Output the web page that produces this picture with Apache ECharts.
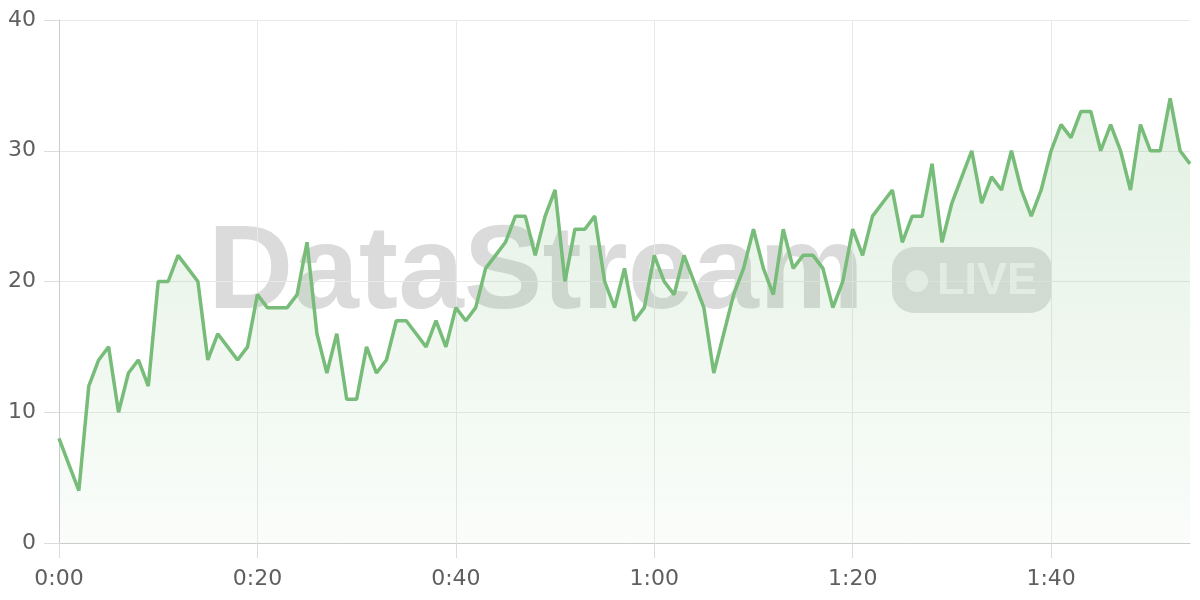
<!DOCTYPE html>
<html>
<head>
<meta charset="utf-8">
<script src="https://cdn.jsdelivr.net/npm/echarts@6/dist/echarts.min.js"></script>
<style>
html,body{margin:0;padding:0;background:#fff;}
#chart{width:1200px;height:600px;}
</style>
</head>
<body>
<div id="chart"></div>
<script>
// Values per second, 0:00 .. 1:54
const values = [
  8, 6, 4, 12, 14, 15, 10, 13, 14, 12,
  20, 20, 22, 21, 20, 14, 16, 15, 14, 15,
  19, 18, 18, 18, 19, 23, 16, 13, 16, 11,
  11, 15, 13, 14, 17, 17, 16, 15, 17, 15,
  18, 17, 18, 21, 22, 23, 25, 25, 22, 25,
  27, 20, 24, 24, 25, 20, 18, 21, 17, 18,
  22, 20, 19, 22, 20, 18, 13, 16, 19, 21,
  24, 21, 19, 24, 21, 22, 22, 21, 18, 20,
  24, 22, 25, 26, 27, 23, 25, 25, 29, 23,
  26, 28, 30, 26, 28, 27, 30, 27, 25, 27,
  30, 32, 31, 33, 33, 30, 32, 30, 27, 32,
  30, 30, 34, 30, 29
];
const categories = [];
for (let i = 0; i < values.length; i++) {
  const m = Math.floor(i / 60), s = i % 60;
  categories.push(m + ':' + (s < 10 ? '0' : '') + s);
}
const yTicks = { min: 0, max: 40, interval: 10 };
const watermarkTitle = 'DataStream';
const watermarkBadge = 'LIVE';

const chart = echarts.init(document.getElementById('chart'), null, { renderer: 'canvas' });
const green = '#77bc78';
chart.setOption({
  animation: false,
  textStyle: { fontFamily: 'DejaVu Sans' },
  grid: { left: 59, right: 10, top: 20, bottom: 57, containLabel: false },
  xAxis: {
    type: 'category',
    data: categories,
    boundaryGap: false,
    axisLine: { show: true, lineStyle: { color: '#cccccc', width: 1 } },
    axisTick: { show: true, alignWithLabel: true, interval: 19, length: 15, lineStyle: { color: '#dcdcdc', width: 1 } },
    axisLabel: { interval: 19, color: '#5f5f5f', fontSize: 22, margin: 25, fontFamily: 'DejaVu Sans' },
    splitLine: { show: true, interval: 19, lineStyle: { color: '#e8e8e8', width: 1 } }
  },
  yAxis: {
    type: 'value',
    min: yTicks.min, max: yTicks.max, interval: yTicks.interval,
    axisLine: { show: true, lineStyle: { color: '#cccccc', width: 1 } },
    axisTick: { show: true, inside: false, length: 15, lineStyle: { color: '#dcdcdc', width: 1 } },
    axisLabel: { color: '#5f5f5f', fontSize: 22, margin: 23, fontFamily: 'DejaVu Sans' },
    splitLine: { show: true, lineStyle: { color: '#e8e8e8', width: 1 } }
  },
  graphic: [
    {
      type: 'text', z: 0, left: 208, top: 216,
      style: {
        text: watermarkTitle, fill: 'rgba(0,0,0,0.14)',
        font: 'bold 118px "Liberation Sans", Arial, sans-serif'
      }
    },
    {
      type: 'rect', z: 0, shape: { x: 892, y: 247, width: 160, height: 66, r: 22 },
      style: { fill: 'rgba(0,0,0,0.12)' }
    },
    {
      type: 'circle', z: 1, shape: { cx: 917, cy: 281, r: 11 },
      style: { fill: 'rgba(255,255,255,0.6)' }
    },
    {
      type: 'text', z: 1, left: 937, top: 259,
      style: {
        text: watermarkBadge, fill: 'rgba(255,255,255,0.6)',
        font: 'bold 45px "Liberation Sans", Arial, sans-serif'
      }
    }
  ],
  series: [{
    type: 'line',
    data: values,
    symbol: 'none',
    z: 3,
    lineStyle: { color: green, width: 3.5 },
    areaStyle: {
      color: new echarts.graphic.LinearGradient(0, 0, 0, 1, [
        { offset: 0, color: 'rgba(119,188,120,0.30)' },
        { offset: 1, color: 'rgba(119,188,120,0.05)' }
      ])
    }
  }]
});
</script>
</body>
</html>
